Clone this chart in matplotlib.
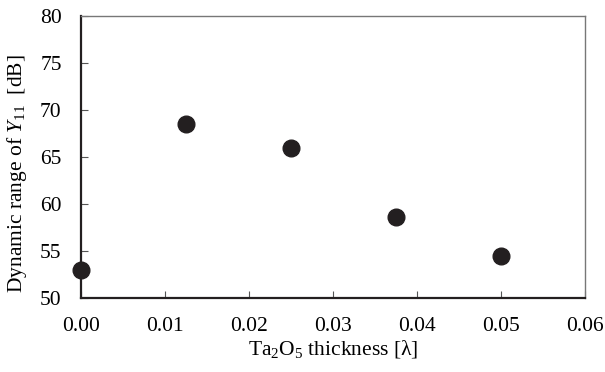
import matplotlib
matplotlib.use("Agg")
import matplotlib.pyplot as plt

# data
thickness = [0.0, 0.0125, 0.025, 0.0375, 0.05]
dyn_range = [53.0, 68.5, 66.0, 58.6, 54.5]

plt.rcParams['font.family'] = ['Liberation Serif', 'DejaVu Serif']
plt.rcParams['mathtext.fontset'] = 'custom'
plt.rcParams['mathtext.rm'] = 'Liberation Serif'
plt.rcParams['mathtext.it'] = 'Liberation Serif:italic'

fig = plt.figure(figsize=(6.05, 3.72), dpi=100)
ax = fig.add_axes([0.134, 0.199, 0.833, 0.758])

ax.plot(thickness, dyn_range, 'o', color='#231f20', markersize=12, clip_on=False, zorder=3)

ax.set_xlim(0, 0.06)
ax.set_ylim(50, 80)
ax.set_xticks([0, 0.01, 0.02, 0.03, 0.04, 0.05, 0.06])
ax.set_xticklabels(['0.00', '0.01', '0.02', '0.03', '0.04', '0.05', '0.06'])
ax.set_yticks(range(50, 81, 5))

ax.tick_params(direction='in', length=5, width=0.8, color='#555555', labelsize=15.5)
ax.tick_params(axis='x', pad=14)
ax.tick_params(axis='y', pad=14)

for s in ['left', 'bottom']:
    ax.spines[s].set_linewidth(1.6)
    ax.spines[s].set_color('#231f20')
for s in ['top', 'right']:
    ax.spines[s].set_linewidth(1.0)
    ax.spines[s].set_color('#777777')

ax.set_xlabel('Ta$_2$O$_5$ thickness [λ]', fontsize=15.5, labelpad=1)
ax.set_ylabel('Dynamic range of $Y_{\\mathrm{11}}$  [dB]', fontsize=15.5)
ax.yaxis.set_label_coords(-0.104, 0.44)

fig.savefig('out.png', dpi=100)
